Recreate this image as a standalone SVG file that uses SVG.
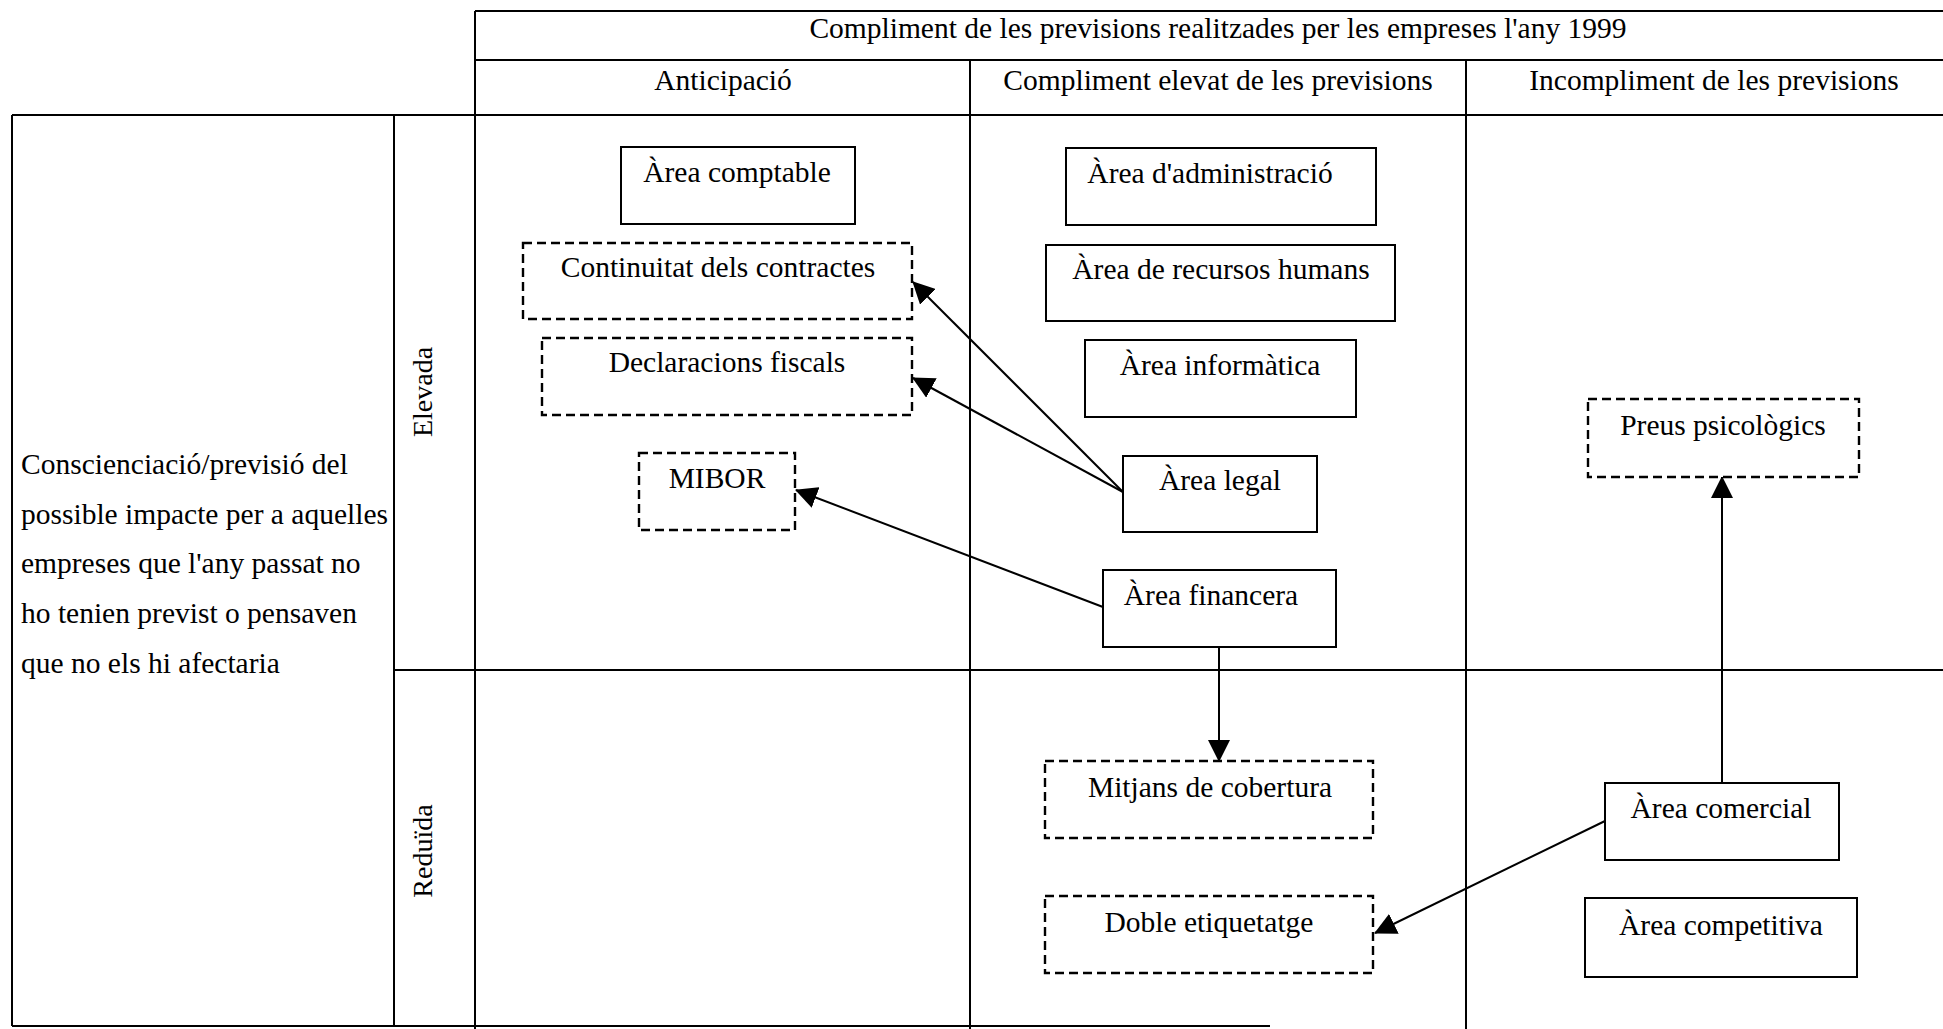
<svg xmlns="http://www.w3.org/2000/svg" width="1943" height="1029" viewBox="0 0 1943 1029">
<defs>
<marker id="ah" markerUnits="userSpaceOnUse" markerWidth="22" markerHeight="22" viewBox="0 0 22 22" refX="21" refY="11" orient="auto">
<path d="M0,0 L22,11 L0,22 Z" fill="#000"/>
</marker>
</defs>
<style>
text{font-family:"Liberation Serif","Times New Roman",serif;font-size:29.5px;fill:#000}
.c{text-anchor:middle}
.grid line{stroke:#000;stroke-width:2}
.box{fill:#fff;stroke:#000;stroke-width:2}
.dash{fill:#fff;stroke:#000;stroke-width:2.4;stroke-dasharray:9 5}
.conn{stroke:#000;stroke-width:2;fill:none;marker-end:url(#ah)}
</style>
<rect width="1943" height="1029" fill="#fff"/>
<g id="grid" class="grid">
<line x1="475" y1="11" x2="1943" y2="11"/>
<line x1="475" y1="60" x2="1943" y2="60"/>
<line x1="12" y1="115" x2="1943" y2="115"/>
<line x1="394" y1="670" x2="1943" y2="670"/>
<line x1="12" y1="1026" x2="1270" y2="1026"/>
<line x1="12" y1="115" x2="12" y2="1026"/>
<line x1="394" y1="115" x2="394" y2="1026"/>
<line x1="475" y1="11" x2="475" y2="1029"/>
<line x1="970" y1="60" x2="970" y2="1029"/>
<line x1="1466" y1="60" x2="1466" y2="1029"/>
</g>
<g id="headers">
<text class="c" x="1218" y="38">Compliment de les previsions realitzades per les empreses l'any 1999</text>
<text class="c" x="723" y="90">Anticipació</text>
<text class="c" x="1218" y="90">Compliment elevat de les previsions</text>
<text class="c" x="1714" y="90">Incompliment de les previsions</text>
<text class="c" style="font-size:28px" transform="translate(432,392) rotate(-90)">Elevada</text>
<text class="c" style="font-size:28px" transform="translate(432,851) rotate(-90)">Reduïda</text>
<text x="21" y="474">Conscienciació/previsió del</text>
<text x="21" y="524">possible impacte per a aquelles</text>
<text x="21" y="573">empreses que l'any passat no</text>
<text x="21" y="623">ho tenien previst o pensaven</text>
<text x="21" y="673">que no els hi afectaria</text>
</g>
<g id="connectors">
<line class="conn" x1="1123" y1="492" x2="913" y2="282"/>
<line class="conn" x1="1123" y1="492" x2="913" y2="378"/>
<line class="conn" x1="1103" y1="607" x2="796" y2="490"/>
<line class="conn" x1="1219" y1="647" x2="1219" y2="761"/>
<line class="conn" x1="1722" y1="783" x2="1722" y2="477"/>
<line class="conn" x1="1605" y1="821" x2="1375" y2="933"/>
</g>
<g id="n-comptable"><rect class="box" x="621" y="147" width="234" height="77"/><text class="c" x="737" y="182">Àrea comptable</text></g>
<g id="n-continuitat"><rect class="dash" x="523" y="243" width="389" height="76"/><text class="c" x="718" y="277">Continuitat dels contractes</text></g>
<g id="n-declaracions"><rect class="dash" x="542" y="338" width="370" height="77"/><text class="c" x="727" y="372">Declaracions fiscals</text></g>
<g id="n-mibor"><rect class="dash" x="639" y="453" width="156" height="77"/><text class="c" x="717" y="488">MIBOR</text></g>
<g id="n-administracio"><rect class="box" x="1066" y="148" width="310" height="77"/><text class="c" x="1210" y="183">Àrea d'administració</text></g>
<g id="n-rrhh"><rect class="box" x="1046" y="245" width="349" height="76"/><text class="c" x="1221" y="279">Àrea de recursos humans</text></g>
<g id="n-informatica"><rect class="box" x="1085" y="340" width="271" height="77"/><text class="c" x="1220" y="375">Àrea informàtica</text></g>
<g id="n-legal"><rect class="box" x="1123" y="456" width="194" height="76"/><text class="c" x="1220" y="490">Àrea legal</text></g>
<g id="n-financera"><rect class="box" x="1103" y="570" width="233" height="77"/><text class="c" x="1211" y="605">Àrea financera</text></g>
<g id="n-mitjans"><rect class="dash" x="1045" y="761" width="328" height="77"/><text class="c" x="1210" y="797">Mitjans de cobertura</text></g>
<g id="n-doble"><rect class="dash" x="1045" y="896" width="328" height="77"/><text class="c" x="1209" y="932">Doble etiquetatge</text></g>
<g id="n-preus"><rect class="dash" x="1588" y="399" width="271" height="78"/><text class="c" x="1723" y="435">Preus psicològics</text></g>
<g id="n-comercial"><rect class="box" x="1605" y="783" width="234" height="77"/><text class="c" x="1721" y="818">Àrea comercial</text></g>
<g id="n-competitiva"><rect class="box" x="1585" y="898" width="272" height="79"/><text class="c" x="1721" y="935">Àrea competitiva</text></g>
</svg>
